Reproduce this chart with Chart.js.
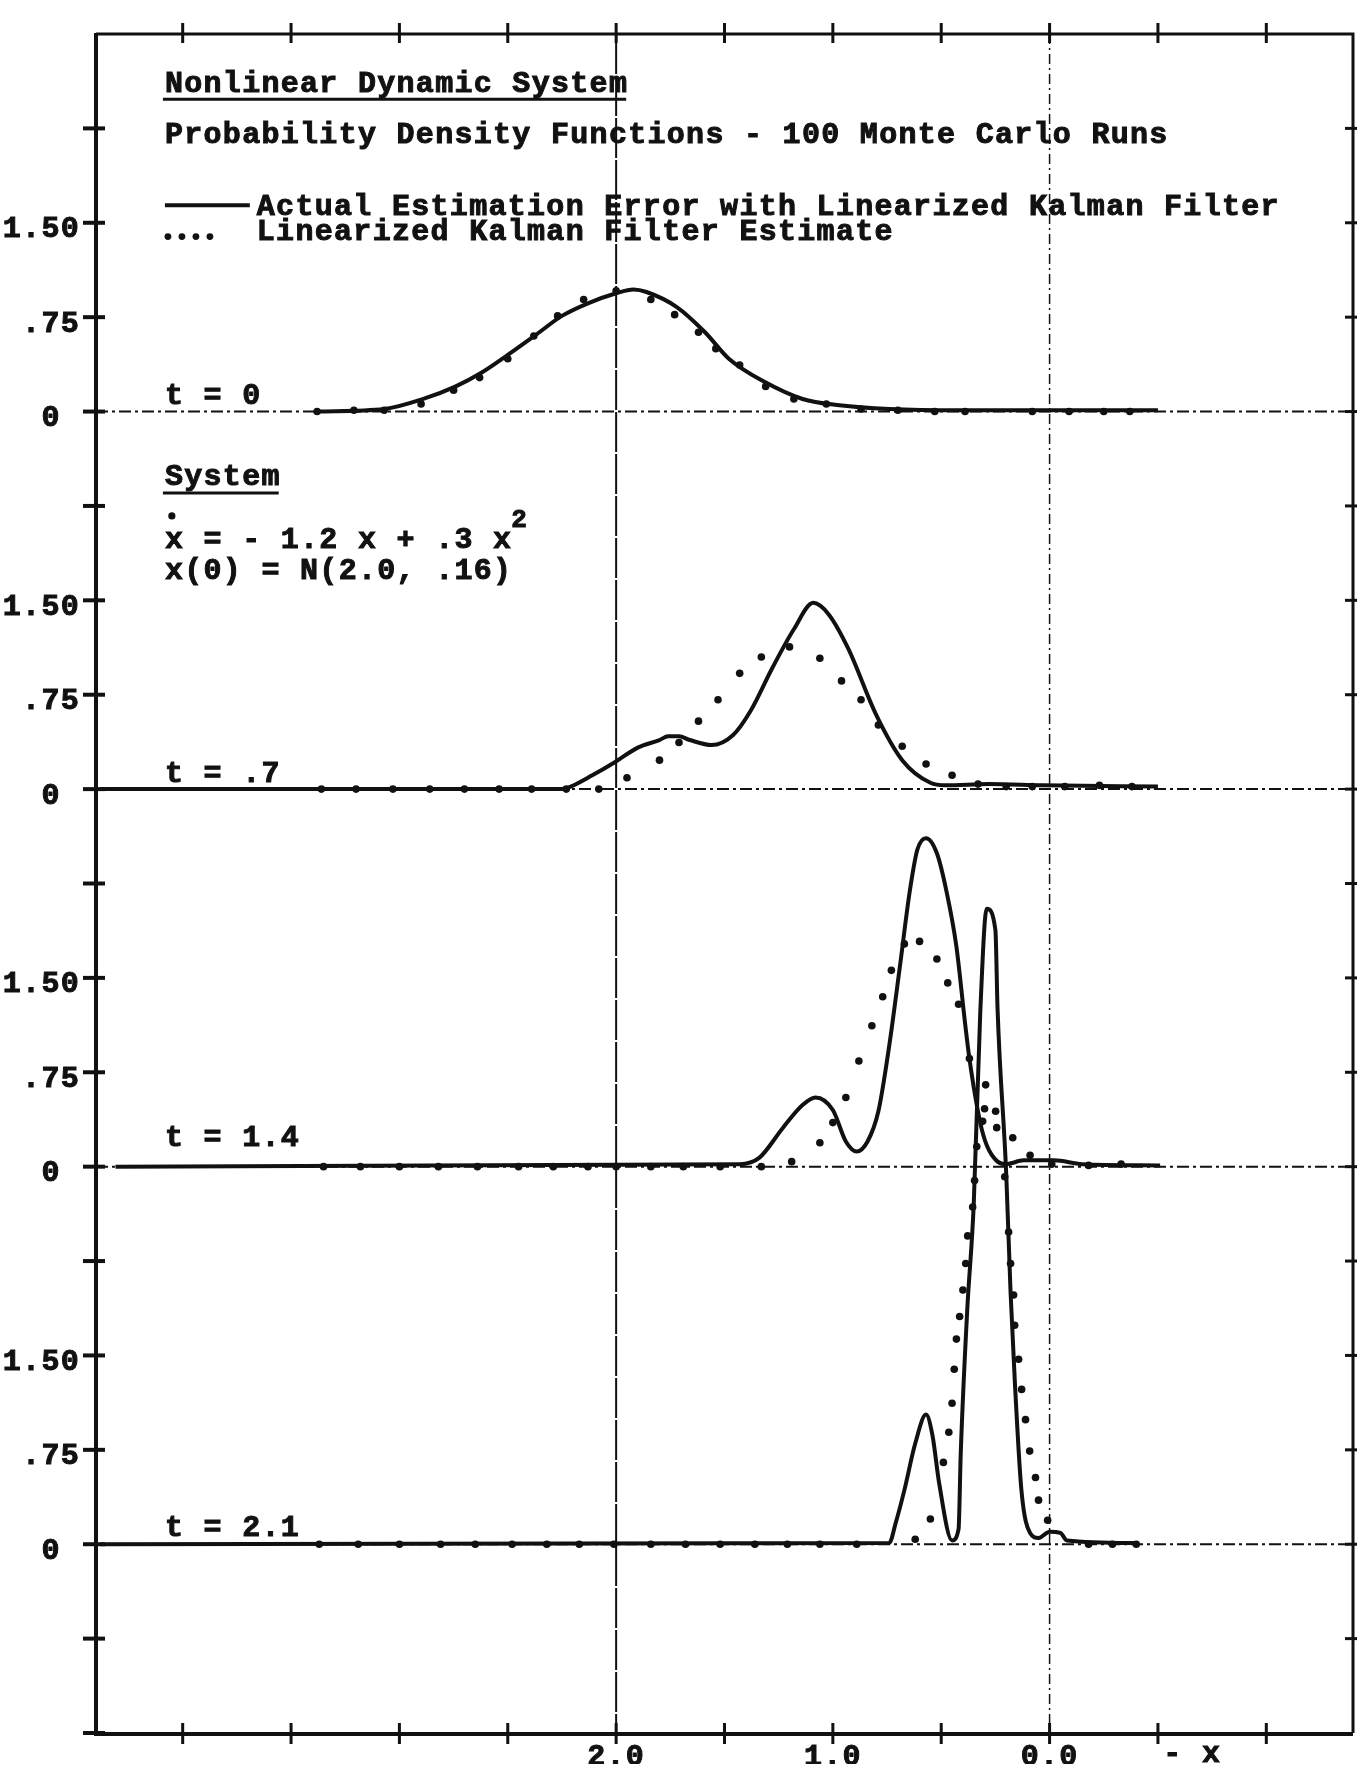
<!DOCTYPE html>
<html lang="en">
<head>
<meta charset="UTF-8">
<title>Nonlinear Dynamic System - Probability Density Functions</title>
<script src="https://cdn.jsdelivr.net/npm/chart.js@4.4.0/dist/chart.umd.min.js"></script>
<style>
  body { margin: 0; background: #fff; }
  #wrap { width: 1357px; height: 1767px; }
</style>
</head>
<body>
<div id="wrap"><canvas id="pdf"></canvas></div>
<script>
// panels from top to bottom, each sits on its own zero line
const panelTimes = ['t = 0', 't = .7', 't = 1.4', 't = 2.1'];
const panelOffsets = [9, 6, 3, 0];

// t = 0
const act0X = [3.38, 3.07, 2.89, 2.74, 2.62, 2.50, 2.37, 2.25, 2.13, 2.00, 1.92, 1.86, 1.72, 1.59, 1.48, 1.32, 1.14, 0.97, 0.74, 0.40, -0.50];
const act0Y = [0, 0.02, 0.10, 0.20, 0.31, 0.45, 0.61, 0.76, 0.86, 0.94, 0.97, 0.95, 0.83, 0.63, 0.42, 0.24, 0.10, 0.05, 0.02, 0.01, 0.01];
const est0X = [3.38, 3.21, 3.07, 2.90, 2.75, 2.63, 2.50, 2.38, 2.27, 2.15, 2.00, 1.84, 1.73, 1.62, 1.54, 1.43, 1.31, 1.18, 1.03, 0.87, 0.70, 0.53, 0.39, 0.08, -0.09, -0.25, -0.37];
const est0Y = [0, 0.01, 0.01, 0.06, 0.17, 0.27, 0.42, 0.60, 0.76, 0.89, 0.96, 0.89, 0.77, 0.63, 0.50, 0.37, 0.20, 0.10, 0.06, 0.02, 0.01, 0, 0, 0, 0, 0, 0];

// t = .7
const act1X = [4.38, 2.25, 2.21, 2.11, 2.01, 1.90, 1.80, 1.76, 1.71, 1.66, 1.56, 1.46, 1.38, 1.28, 1.18, 1.09, 1.02, 0.93, 0.80, 0.68, 0.55, 0.48, 0.28, 0.03, -0.50];
const act1Y = [0, 0, 0.02, 0.11, 0.21, 0.33, 0.39, 0.42, 0.42, 0.39, 0.35, 0.43, 0.62, 0.96, 1.27, 1.48, 1.39, 1.12, 0.59, 0.23, 0.05, 0.03, 0.04, 0.03, 0.02];
const est1X = [3.36, 3.20, 3.03, 2.86, 2.70, 2.54, 2.39, 2.23, 2.08, 1.95, 1.80, 1.71, 1.62, 1.53, 1.43, 1.33, 1.20, 1.06, 0.96, 0.87, 0.79, 0.68, 0.57, 0.45, 0.33, 0.20, 0.08, -0.07, -0.23, -0.38];
const est1Y = [0, 0, 0, 0, 0, 0, 0, 0, 0, 0.09, 0.23, 0.37, 0.54, 0.71, 0.92, 1.05, 1.13, 1.04, 0.86, 0.71, 0.51, 0.34, 0.20, 0.11, 0.04, 0.02, 0.02, 0.02, 0.03, 0.02];

// t = 1.4
const act2X = [4.31, 1.43, 1.34, 1.23, 1.14, 1.08, 1.00, 0.94, 0.89, 0.84, 0.79, 0.74, 0.69, 0.645, 0.61, 0.57, 0.52, 0.476, 0.43, 0.39, 0.37, 0.32, 0.29, 0.24, 0.20, 0.12, -0.02, -0.15, -0.51];
const act2Y = [0, 0.02, 0.07, 0.31, 0.49, 0.55, 0.45, 0.20, 0.12, 0.20, 0.44, 0.96, 1.60, 2.19, 2.52, 2.61, 2.49, 2.19, 1.75, 1.14, 0.86, 0.35, 0.17, 0.04, 0.02, 0.05, 0.05, 0.02, 0.01];
const est2X = [3.35, 3.18, 3.00, 2.82, 2.64, 2.45, 2.29, 2.13, 2.00, 1.84, 1.69, 1.52, 1.33, 1.19, 1.06, 1.00, 0.94, 0.88, 0.82, 0.77, 0.73, 0.67, 0.60, 0.52, 0.47, 0.42, 0.37, 0.30, 0.17, 0.09, -0.01, -0.18, -0.33];
const est2Y = [0, 0, 0, 0, 0, 0, 0, 0, 0, 0, 0, 0, 0, 0.04, 0.19, 0.35, 0.55, 0.84, 1.12, 1.35, 1.56, 1.77, 1.79, 1.65, 1.46, 1.29, 0.86, 0.46, 0.23, 0.09, 0.02, 0.01, 0.02];

// t = 2.1
const act3X = [4.38, 0.74, 0.71, 0.67, 0.62, 0.57, 0.54, 0.51, 0.45, 0.42, 0.41, 0.38, 0.35, 0.32, 0.29, 0.25, 0.24, 0.20, 0.18, 0.16, 0.13, 0.09, 0.05, 0.00, -0.05, -0.08, -0.40];
const act3Y = [0, 0.01, 0.17, 0.43, 0.80, 1.03, 0.86, 0.49, 0.03, 0.12, 0.72, 1.86, 2.70, 4.22, 5.05, 4.88, 4.25, 2.94, 2.00, 1.28, 0.43, 0.09, 0.05, 0.10, 0.09, 0.03, 0.01];
const est3X = [3.37, 3.19, 3.00, 2.81, 2.65, 2.48, 2.32, 2.17, 2.01, 1.84, 1.68, 1.52, 1.36, 1.21, 1.06, 0.89, 0.62, 0.55, 0.49, 0.465, 0.45, 0.44, 0.43, 0.415, 0.40, 0.387, 0.378, 0.355, 0.346, 0.336, 0.309, 0.295, 0.249, 0.244, 0.207, 0.189, 0.18, 0.166, 0.161, 0.143, 0.129, 0.111, 0.092, 0.065, 0.051, 0.009, -0.18, -0.29, -0.40];
const est3Y = [0, 0, 0, 0, 0, 0, 0, 0, 0, 0, 0, 0, 0, 0, 0, 0, 0.04, 0.20, 0.65, 0.89, 1.12, 1.39, 1.63, 1.81, 2.02, 2.23, 2.45, 2.68, 2.89, 3.16, 3.36, 3.65, 3.44, 3.31, 2.92, 2.48, 2.23, 1.98, 1.74, 1.47, 1.23, 0.99, 0.74, 0.53, 0.35, 0.19, 0, 0, 0];

const xTickValues = [4, 3.5, 3, 2.5, 2, 1.5, 1, 0.5, 0, -0.5, -1];
const xTickLabels = { '2': '2.0', '1': '1.0', '0': '0.0' };
const yTickLabels = ['0 ', '.75', '1.50', ''];

const ink = '#111';
const fontFamily = '"Liberation Mono", monospace';
const fontSize = 30;

const actual = [[act0X, act0Y], [act1X, act1Y], [act2X, act2Y], [act3X, act3Y]];
const estimate = [[est0X, est0Y], [est1X, est1Y], [est2X, est2Y], [est3X, est3Y]];

function toPoints(xs, ys, off) {
  return xs.map((x, i) => ({ x: x, y: ys[i] + off }));
}

const datasets = [];
actual.forEach((s, k) => {
  datasets.push({
    label: 'Actual ' + panelTimes[k],
    data: toPoints(s[0], s[1], panelOffsets[k]),
    showLine: true,
    borderColor: ink,
    borderWidth: 4,
    pointRadius: 0,
    cubicInterpolationMode: 'monotone',
    fill: false
  });
});
estimate.forEach((s, k) => {
  datasets.push({
    label: 'Estimate ' + panelTimes[k],
    data: toPoints(s[0], s[1], panelOffsets[k]),
    showLine: false,
    pointRadius: 3.8,
    pointBorderWidth: 0,
    backgroundColor: ink,
    borderColor: ink
  });
});

// y ticks every .75 through all four panels
const yTickValues = [];
for (let v = -0.75; v < 11.5; v += 0.75) yTickValues.push(Math.round(v * 100) / 100);

function text(ctx, s, px, py, size) {
  ctx.font = 'bold ' + (size || fontSize) + 'px ' + fontFamily;
  ctx.lineWidth = 1;
  ctx.strokeText(s, px, py);
  ctx.fillText(s, px, py);
  return ctx.measureText(s).width;
}

const paper = {
  id: 'paper',
  beforeDraw(chart) {
    const ctx = chart.ctx;
    ctx.letterSpacing = '1.3px';
    ctx.save();
    ctx.fillStyle = '#fff';
    ctx.fillRect(0, 0, chart.width, chart.height);
    ctx.restore();
  },
  beforeDatasetsDraw(chart) {
    const { ctx, chartArea: a, scales: { x, y } } = chart;
    ctx.save();
    ctx.strokeStyle = ink;
    // vertical reference lines at 2.0 and 0.0
    ctx.lineWidth = 2;
    ctx.setLineDash([40, 2]);
    ctx.beginPath();
    ctx.moveTo(x.getPixelForValue(2), a.top);
    ctx.lineTo(x.getPixelForValue(2), a.bottom);
    ctx.stroke();
    ctx.lineWidth = 1.5;
    ctx.setLineDash([10, 4, 2, 4]);
    ctx.beginPath();
    ctx.moveTo(x.getPixelForValue(0), a.top);
    ctx.lineTo(x.getPixelForValue(0), a.bottom);
    ctx.stroke();
    // zero line of every panel
    ctx.lineWidth = 2;
    ctx.setLineDash([12, 4, 3, 4]);
    panelOffsets.forEach(off => {
      const py = y.getPixelForValue(off);
      ctx.beginPath();
      ctx.moveTo(a.left, py);
      ctx.lineTo(a.right, py);
      ctx.stroke();
    });
    ctx.restore();
  },
  afterDatasetsDraw(chart) {
    const { ctx, chartArea: a, scales: { x, y } } = chart;
    ctx.save();
    ctx.strokeStyle = ink;
    ctx.fillStyle = ink;
    ctx.setLineDash([]);
    ctx.lineCap = 'butt';

    // frame
    ctx.lineWidth = 4;
    ctx.beginPath();
    ctx.moveTo(a.left, a.top - 1);
    ctx.lineTo(a.left, a.bottom + 1);
    ctx.lineTo(a.right, a.bottom + 1);
    ctx.stroke();
    ctx.lineWidth = 3;
    ctx.beginPath();
    ctx.moveTo(a.left, a.top);
    ctx.lineTo(a.right, a.top);
    ctx.lineTo(a.right, a.bottom);
    ctx.stroke();

    // tick crosses
    ctx.lineWidth = 4;
    yTickValues.concat([-1.5]).forEach(v => {
      const py = y.getPixelForValue(v);
      ctx.beginPath();
      ctx.moveTo(a.left - 13, py);
      ctx.lineTo(a.left + 9, py);
      ctx.stroke();
    });
    ctx.lineWidth = 3;
    yTickValues.forEach(v => {
      const py = y.getPixelForValue(v);
      ctx.beginPath();
      ctx.moveTo(a.right - 8, py);
      ctx.lineTo(a.right + 4, py);
      ctx.stroke();
    });
    xTickValues.forEach(v => {
      const px = x.getPixelForValue(v);
      ctx.beginPath();
      ctx.moveTo(px, a.top - 11);
      ctx.lineTo(px, a.top + 9);
      ctx.moveTo(px, a.bottom - 10);
      ctx.lineTo(px, a.bottom + 11);
      ctx.stroke();
    });

    // headings and legend
    ctx.textAlign = 'left';
    ctx.textBaseline = 'alphabetic';
    const left = x.getPixelForValue(4.082);
    const legendLeft = x.getPixelForValue(3.658);

    let w = text(ctx, 'Nonlinear Dynamic System', left, y.getPixelForValue(11.536));
    ctx.lineWidth = 3;
    ctx.beginPath();
    ctx.moveTo(left - 2, y.getPixelForValue(11.481));
    ctx.lineTo(left + w - 2, y.getPixelForValue(11.481));
    ctx.stroke();

    text(ctx, 'Probability Density Functions - 100 Monte Carlo Runs', left, y.getPixelForValue(11.131));

    ctx.lineWidth = 4;
    ctx.beginPath();
    ctx.moveTo(left, y.getPixelForValue(10.64));
    ctx.lineTo(legendLeft - 7, y.getPixelForValue(10.64));
    ctx.stroke();
    text(ctx, 'Actual Estimation Error with Linearized Kalman Filter', legendLeft, y.getPixelForValue(10.561));

    for (let i = 0; i < 4; i++) {
      ctx.beginPath();
      ctx.arc(left + 3 + i * 14, y.getPixelForValue(10.39), 3.4, 0, Math.PI * 2);
      ctx.fill();
    }
    text(ctx, 'Linearized Kalman Filter Estimate', legendLeft, y.getPixelForValue(10.365));

    // system description
    w = text(ctx, 'System', left, y.getPixelForValue(8.415));
    ctx.lineWidth = 3;
    ctx.beginPath();
    ctx.moveTo(left - 2, y.getPixelForValue(8.352));
    ctx.lineTo(left + w - 2, y.getPixelForValue(8.352));
    ctx.stroke();

    ctx.beginPath();
    ctx.arc(x.getPixelForValue(4.05), y.getPixelForValue(8.171), 3.6, 0, Math.PI * 2);
    ctx.fill();
    w = text(ctx, 'x = - 1.2 x + .3 x', left, y.getPixelForValue(7.919));
    text(ctx, '2', left + w - 1, y.getPixelForValue(8.085), 26);
    text(ctx, 'x(0) = N(2.0, .16)', left, y.getPixelForValue(7.668));

    // time labels
    const timeBase = [9.059, 6.056, 3.163, 0.066];
    panelTimes.forEach((t, k) => text(ctx, t, left, y.getPixelForValue(timeBase[k])));

    // axis name beside the x tick labels
    text(ctx, '- x', x.getPixelForValue(-0.525), y.getPixelForValue(-1.728));
    ctx.restore();
  }
};

const tickFont = { family: fontFamily, size: fontSize, weight: 'bold' };

new Chart(document.getElementById('pdf'), {
  type: 'scatter',
  data: { datasets: datasets },
  options: {
    responsive: true,
    maintainAspectRatio: false,
    animation: false,
    layout: { padding: { top: 19, right: 2, left: 0, bottom: 0 } },
    plugins: {
      legend: { display: false },
      tooltip: { enabled: false }
    },
    scales: {
      x: {
        type: 'linear',
        reverse: true,
        min: -1.4,
        max: 4.4,
        grid: { display: false, drawTicks: false },
        border: { display: false },
        afterBuildTicks: s => { s.ticks = xTickValues.map(v => ({ value: v })); },
        afterFit: s => { s.height = 31; },
        ticks: {
          autoSkip: false,
          maxRotation: 0,
          padding: 6,
          color: ink,
          textStrokeColor: ink,
          textStrokeWidth: 1,
          font: tickFont,
          callback: v => xTickLabels[String(v)] || ''
        }
      },
      y: {
        type: 'linear',
        min: -1.5,
        max: 12,
        grid: { display: false, drawTicks: false },
        border: { display: false },
        afterBuildTicks: s => { s.ticks = yTickValues.map(v => ({ value: v })); },
        afterFit: s => { s.width = 96; },
        ticks: {
          autoSkip: false,
          padding: 16,
          labelOffset: 7,
          color: ink,
          textStrokeColor: ink,
          textStrokeWidth: 1,
          font: tickFont,
          callback: v => {
            const r = Math.round((((v % 3) + 3) % 3) / 0.75) % 4;
            return yTickLabels[r];
          }
        }
      }
    }
  },
  plugins: [paper]
});
</script>
</body>
</html>
